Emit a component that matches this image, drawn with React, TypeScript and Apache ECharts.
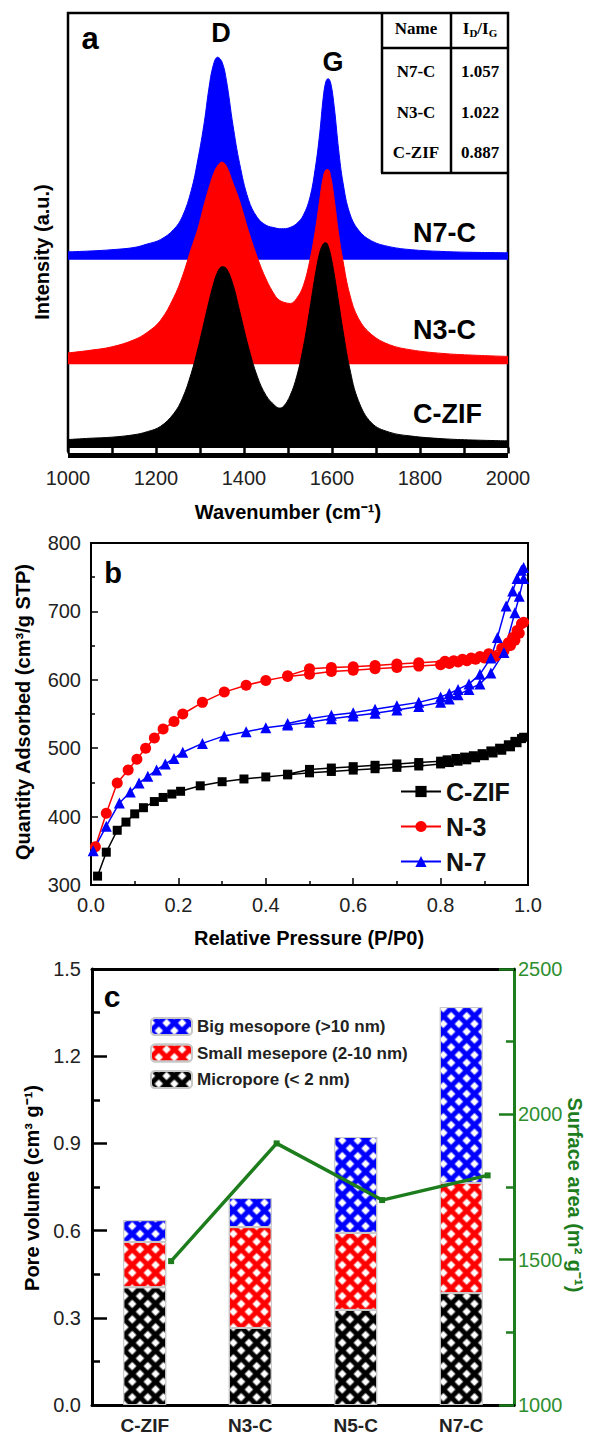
import React, { useEffect, useRef } from 'react';
import * as echarts from 'echarts';

const FONT = "'Liberation Sans', Arial, Helvetica, sans-serif";
const SERIF = "'Liberation Serif', 'Times New Roman', serif";

// ---------- Panel a : Raman spectra ----------
const ramanWavenumber = [1000, 1050, 1100, 1150, 1180, 1210, 1240, 1260, 1280, 1295, 1310, 1320, 1330, 1340, 1350, 1360, 1375, 1390, 1410, 1430, 1450, 1470, 1480, 1490, 1505, 1520, 1535, 1550, 1562, 1572, 1580, 1586, 1591, 1597, 1605, 1615, 1625, 1640, 1660, 1690, 1730, 1780, 1850, 1920, 2000];
const ramanN7C = [45.4, 45.6, 45.9, 46.4, 47.2, 48.2, 50.5, 53.5, 59.4, 66.4, 75.2, 82.6, 88.0, 89.9, 88.8, 84.6, 74.3, 65.6, 57.4, 53.3, 51.5, 50.9, 50.7, 50.7, 51.0, 51.9, 53.8, 57.9, 64.5, 72.4, 80.6, 84.3, 85.0, 84.0, 78.6, 68.8, 61.2, 54.3, 50.4, 47.9, 46.6, 45.9, 45.5, 45.3, 45.2];
const ramanN3C = [22.3, 22.9, 23.7, 25.3, 27.0, 29.7, 34.9, 39.8, 46.1, 50.6, 56.4, 59.9, 63.0, 65.1, 65.9, 65.0, 61.1, 57.0, 50.2, 44.2, 39.2, 35.5, 34.4, 33.9, 33.6, 34.8, 37.7, 43.6, 50.2, 57.2, 62.4, 64.1, 64.2, 62.6, 57.4, 49.5, 43.3, 35.8, 30.2, 26.5, 24.2, 23.0, 22.2, 21.8, 21.5];
const ramanCZIF = [2.5, 2.8, 3.05, 3.6, 4.3, 5.5, 8.4, 11.9, 17.6, 23.2, 29.6, 33.9, 37.8, 40.8, 42.0, 41.6, 37.9, 31.9, 23.7, 17.0, 12.6, 10.3, 9.7, 10.1, 12.6, 17.0, 23.7, 32.6, 40.1, 45.2, 47.2, 47.5, 46.8, 44.6, 40.3, 33.9, 27.4, 18.9, 11.4, 6.3, 4.2, 3.3, 2.7, 2.4, 2.2];
const ramanBaseN7C = 43.6;
const ramanBaseN3C = 19.7;
const ramanTableNames = ['N7-C', 'N3-C', 'C-ZIF'];
const ramanTableRatios = ['1.057', '1.022', '0.887'];

// ---------- Panel b : N2 isotherms ----------
const czifP = [0.015, 0.035, 0.06, 0.08, 0.10, 0.12, 0.145, 0.165, 0.185, 0.205, 0.25, 0.30, 0.35, 0.40, 0.45, 0.50, 0.55, 0.60, 0.65, 0.70, 0.75, 0.80, 0.82, 0.84, 0.86, 0.88, 0.90, 0.92, 0.94, 0.96, 0.975, 0.99, 0.985, 0.97, 0.955, 0.935, 0.915, 0.895, 0.875, 0.855, 0.835, 0.815, 0.80, 0.75, 0.70, 0.65, 0.60, 0.55, 0.50, 0.45];
const czifQ = [313, 348, 380, 392, 404, 413, 422, 428, 433, 437, 445, 451, 455, 458, 461, 464, 466, 468, 470, 472, 474, 477, 479, 481, 483, 486, 489, 493, 497, 502, 508, 516, 514, 510, 505, 500, 496, 492, 489, 487, 485, 483, 481, 479, 477, 475, 473, 471, 469, 462];
const n3P = [0.01, 0.035, 0.06, 0.085, 0.105, 0.125, 0.145, 0.165, 0.19, 0.21, 0.255, 0.305, 0.355, 0.40, 0.45, 0.50, 0.55, 0.60, 0.65, 0.70, 0.75, 0.80, 0.82, 0.84, 0.86, 0.88, 0.90, 0.925, 0.945, 0.96, 0.97, 0.98, 0.99, 0.985, 0.975, 0.965, 0.955, 0.94, 0.91, 0.89, 0.87, 0.85, 0.83, 0.81, 0.75, 0.70, 0.65, 0.60, 0.55, 0.50, 0.45];
const n3Q = [356, 405, 449, 468, 484, 500, 515, 528, 539, 550, 567, 582, 592, 599, 605, 608, 612, 614, 616, 618, 620, 622, 624, 626, 628, 630, 632, 634, 642, 650, 658, 668, 684, 682, 672, 662, 654, 646, 638, 634, 632, 630, 628, 627, 625, 623, 621, 619, 618, 616, 606];
const n7P = [0.005, 0.035, 0.065, 0.09, 0.11, 0.13, 0.15, 0.17, 0.19, 0.21, 0.255, 0.305, 0.355, 0.40, 0.45, 0.50, 0.55, 0.60, 0.65, 0.70, 0.75, 0.80, 0.82, 0.84, 0.865, 0.89, 0.915, 0.945, 0.97, 0.98, 0.99, 0.99, 0.985, 0.975, 0.965, 0.95, 0.93, 0.915, 0.89, 0.865, 0.84, 0.82, 0.80, 0.75, 0.70, 0.65, 0.60, 0.55, 0.50, 0.45];
const n7Q = [350, 386, 420, 436, 449, 459, 468, 477, 485, 494, 507, 518, 524, 530, 534, 538, 543, 547, 551, 556, 561, 567, 572, 578, 586, 594, 610, 640, 698, 722, 748, 764, 760, 748, 730, 708, 662, 632, 608, 594, 586, 580, 575, 567, 562, 557, 552, 548, 543, 536];
const isoNames = ['C-ZIF', 'N-3', 'N-7'];

// ---------- Panel c : pore volume & surface area ----------
const poreCategories = ['C-ZIF', 'N3-C', 'N5-C', 'N7-C'];
const microporeVolume = [0.405, 0.265, 0.327, 0.385];
const smallMesoVolume = [0.156, 0.347, 0.265, 0.379];
const bigMesoVolume = [0.075, 0.10, 0.33, 0.605];
const surfaceArea = [1495, 1900, 1705, 1790];
const poreNames = ['Big mesopore (>10 nm)', 'Small mesepore (2-10 nm)', 'Micropore (< 2 nm)'];

const GREEN = '#1d7d1d';
const GREEN_TXT = '#2f8f2f';

function zip(xs: number[], ys: number[]) {
  return xs.map((x, i) => [x, ys[i]]);
}

function buildOption(): any {
  const hatch = {
    symbol: 'rect',
    symbolSize: 0.85,
    color: '#ffffff',
    dashArrayX: [7, 4],
    dashArrayY: [7, 4],
    rotation: Math.PI / 4,
  };
  const lineShift = 0.25;
  const plain = (v: number) => String(v);

  const txt = (text: string, x: number, y: number, size: number, extra: any = {}) => ({
    type: 'text',
    x,
    y,
    rotation: extra.rotation || 0,
    style: {
      text,
      fill: extra.fill || '#000',
      font: `${extra.weight || 'bold'} ${size}px ${extra.family || FONT}`,
      textAlign: extra.align || 'center',
      align: extra.align || 'center',
      textVerticalAlign: 'middle',
      verticalAlign: 'middle',
    },
    z: 100,
  });
  const ln = (x1: number, y1: number, x2: number, y2: number, w = 2.5) => ({
    type: 'line',
    shape: { x1, y1, x2, y2 },
    style: { stroke: '#000', lineWidth: w },
    z: 100,
  });

  const tableRowsY = [71, 112, 152];
  const tableEls: any[] = [
    ln(382, 13, 382, 173),
    ln(451, 13, 451, 173),
    ln(381, 173, 508, 173),
    ln(382, 48, 508, 48),
    txt('Name', 416, 28, 17, { family: SERIF }),
    {
      type: 'text',
      x: 480,
      y: 28,
      style: {
        text: '{m|I}{s|D}{m|/I}{s|G}',
        fill: '#000',
        align: 'center',
        verticalAlign: 'middle',
        textAlign: 'center',
        textVerticalAlign: 'middle',
        rich: {
          m: { font: `bold 17px ${SERIF}`, fill: '#000', lineHeight: 20 },
          s: { font: `bold 11px ${SERIF}`, fill: '#000', verticalAlign: 'bottom', lineHeight: 20 },
        },
      },
      z: 100,
    },
  ];
  ramanTableNames.forEach((n, i) => {
    tableEls.push(txt(n, 416, tableRowsY[i], 17, { family: SERIF }));
    tableEls.push(txt(ramanTableRatios[i], 480, tableRowsY[i], 17, { family: SERIF }));
  });

  const axisLbl = { fontFamily: FONT, fontSize: 20, color: '#222' };

  return {
    animation: false,
    backgroundColor: '#ffffff',
    textStyle: { fontFamily: FONT },
    grid: [
      { left: 68, top: 13, width: 440, height: 437.5, show: true, borderColor: '#000', borderWidth: 2.5, backgroundColor: 'transparent' },
      { left: 91, top: 543, width: 437, height: 342, show: true, borderColor: '#000', borderWidth: 2, backgroundColor: 'transparent' },
      { left: 92, top: 969, width: 422, height: 436, show: false },
    ],
    xAxis: [
      {
        gridIndex: 0, type: 'value', position: 'bottom', min: 1000, max: 2000, interval: 200, z: 10,
        axisLine: { show: true, onZero: false, lineStyle: { color: '#000', width: 15, cap: 'butt' } },
        axisTick: { show: false }, splitLine: { show: false },
        axisLabel: { ...axisLbl, margin: 17, formatter: plain },
      },
      {
        gridIndex: 0, type: 'value', position: 'bottom', min: 1000, max: 2000, interval: 100, z: 11,
        axisLine: { show: true, onZero: false, lineStyle: { color: '#ffffff', width: 5, cap: 'butt' } },
        axisTick: { show: false }, axisLabel: { show: false }, splitLine: { show: false },
      },
      {
        gridIndex: 0, type: 'value', position: 'bottom', offset: 3, min: 1000, max: 2000, interval: 100, z: 12,
        axisLine: { show: false, onZero: false },
        axisTick: { show: true, inside: true, length: 6, lineStyle: { color: '#000', width: 2.5 } },
        axisLabel: { show: false }, splitLine: { show: false },
      },
      {
        gridIndex: 1, type: 'value', position: 'bottom', min: 0, max: 1, interval: 0.2,
        axisLine: { show: true, onZero: false, lineStyle: { color: '#000', width: 2 } },
        axisTick: { show: true, inside: true, length: 7, lineStyle: { color: '#000', width: 1.5 } },
        minorTick: { show: true, splitNumber: 2, length: 4, lineStyle: { color: '#000', width: 1.5 } },
        splitLine: { show: false },
        axisLabel: { ...axisLbl, margin: 10, formatter: (v: number) => v.toFixed(1) },
      },
      {
        gridIndex: 2, type: 'category', position: 'bottom', data: poreCategories,
        axisLine: { show: true, onZero: false, lineStyle: { color: '#000', width: 3 } },
        axisTick: { show: false },
        axisLabel: { fontFamily: FONT, fontSize: 19, fontWeight: 'bold', color: '#222', margin: 11 },
      },
      {
        gridIndex: 2, type: 'value', position: 'top', min: -0.5 - lineShift, max: 3.5 - lineShift,
        axisLine: { show: true, onZero: false, lineStyle: { color: '#000', width: 3 } },
        axisTick: { show: false }, axisLabel: { show: false }, splitLine: { show: false },
      },
    ],
    yAxis: [
      { gridIndex: 0, type: 'value', min: 0, max: 100, show: false, axisLine: { onZero: false }, splitLine: { show: false } },
      {
        gridIndex: 1, type: 'value', min: 300, max: 800, interval: 100,
        axisLine: { show: true, onZero: false, lineStyle: { color: '#000', width: 2 } },
        axisTick: { show: true, inside: true, length: 7, lineStyle: { color: '#000', width: 1.5 } },
        minorTick: { show: true, splitNumber: 2, length: 4, lineStyle: { color: '#000', width: 1.5 } },
        splitLine: { show: false },
        axisLabel: { ...axisLbl, margin: 10, formatter: plain },
      },
      {
        gridIndex: 2, type: 'value', position: 'left', min: 0, max: 1.5, interval: 0.3,
        axisLine: { show: true, onZero: false, lineStyle: { color: '#000', width: 3 } },
        axisTick: { show: true, inside: true, length: 15, lineStyle: { color: '#000', width: 2.5 } },
        minorTick: { show: true, splitNumber: 2, length: 8, lineStyle: { color: '#000', width: 2.5 } },
        splitLine: { show: false },
        axisLabel: { ...axisLbl, margin: 11, formatter: (v: number) => v.toFixed(1) },
      },
      {
        gridIndex: 2, type: 'value', position: 'right', min: 1000, max: 2500, interval: 500,
        axisLine: { show: true, onZero: false, lineStyle: { color: GREEN, width: 3 } },
        axisTick: { show: true, inside: true, length: 15, lineStyle: { color: GREEN, width: 2.5 } },
        minorTick: { show: true, splitNumber: 2, length: 8, lineStyle: { color: GREEN, width: 2.5 } },
        splitLine: { show: false },
        axisLabel: { fontFamily: FONT, fontSize: 20, color: GREEN_TXT, margin: 4, formatter: plain },
      },
    ],
    legend: [
      {
        data: isoNames, orient: 'vertical', left: 400, top: 779, itemWidth: 40, itemHeight: 14, itemGap: 10,
        padding: 0, textStyle: { fontFamily: FONT, fontSize: 25, fontWeight: 'bold', color: '#111' },
      },
      {
        data: poreNames, orient: 'vertical', left: 150, top: 1017, itemWidth: 41, itemHeight: 17, itemGap: 7.5,
        padding: 0, textStyle: { fontFamily: FONT, fontSize: 17, fontWeight: 'bold', color: '#222' },
      },
    ],
    series: [
      {
        name: 'N7-C spectrum', type: 'line', xAxisIndex: 0, yAxisIndex: 0, data: zip(ramanWavenumber, ramanN7C),
        showSymbol: false, smooth: 0.4, lineStyle: { color: '#0000ff', width: 1 },
        areaStyle: { color: '#0000ff', opacity: 1, origin: ramanBaseN7C },
      },
      {
        name: 'N3-C spectrum', type: 'line', xAxisIndex: 0, yAxisIndex: 0, data: zip(ramanWavenumber, ramanN3C),
        showSymbol: false, smooth: 0.4, lineStyle: { color: '#ff0000', width: 1 },
        areaStyle: { color: '#ff0000', opacity: 1, origin: ramanBaseN3C },
      },
      {
        name: 'C-ZIF spectrum', type: 'line', xAxisIndex: 0, yAxisIndex: 0, data: zip(ramanWavenumber, ramanCZIF),
        showSymbol: false, smooth: 0.4, lineStyle: { color: '#000000', width: 1 },
        areaStyle: { color: '#000000', opacity: 1, origin: 'start' },
      },
      {
        name: isoNames[0], type: 'line', xAxisIndex: 3, yAxisIndex: 1, data: zip(czifP, czifQ),
        symbol: 'rect', symbolSize: 9, lineStyle: { color: '#000', width: 1.5 }, itemStyle: { color: '#000' },
      },
      {
        name: isoNames[1], type: 'line', xAxisIndex: 3, yAxisIndex: 1, data: zip(n3P, n3Q),
        symbol: 'circle', symbolSize: 11, lineStyle: { color: '#ff0000', width: 1.5 }, itemStyle: { color: '#ff0000' },
      },
      {
        name: isoNames[2], type: 'line', xAxisIndex: 3, yAxisIndex: 1, data: zip(n7P, n7Q),
        symbol: 'triangle', symbolSize: 11, lineStyle: { color: '#0000ff', width: 1.5 }, itemStyle: { color: '#0000ff' },
      },
      {
        name: poreNames[2], type: 'bar', xAxisIndex: 4, yAxisIndex: 2, stack: 'pore', data: microporeVolume, barWidth: 43,
        itemStyle: { color: '#000000', borderColor: '#c8c8c8', borderWidth: 1, decal: hatch },
      },
      {
        name: poreNames[1], type: 'bar', xAxisIndex: 4, yAxisIndex: 2, stack: 'pore', data: smallMesoVolume, barWidth: 43,
        itemStyle: { color: '#ff0000', borderColor: '#c8c8c8', borderWidth: 1, decal: hatch },
      },
      {
        name: poreNames[0], type: 'bar', xAxisIndex: 4, yAxisIndex: 2, stack: 'pore', data: bigMesoVolume, barWidth: 43,
        itemStyle: { color: '#0000ff', borderColor: '#c8c8c8', borderWidth: 1, decal: hatch },
      },
      {
        name: 'Surface area', type: 'line', xAxisIndex: 5, yAxisIndex: 3,
        data: surfaceArea.map((v, i) => [i, v]),
        symbol: 'rect', symbolSize: 6, lineStyle: { color: GREEN, width: 3.5 }, itemStyle: { color: GREEN }, z: 5,
      },
    ],
    graphic: {
      elements: [
        txt('a', 90, 38, 31),
        txt('D', 221, 33, 27),
        txt('G', 333, 62, 27),
        txt('N7-C', 413, 233, 27, { align: 'left' }),
        txt('N3-C', 413, 330, 27, { align: 'left' }),
        txt('C-ZIF', 413, 414, 27, { align: 'left' }),
        ...tableEls,
        txt('Intensity (a.u.)', 42, 252, 20, { rotation: Math.PI / 2 }),
        txt('Wavenumber (cm\u207B\u00B9)', 288, 512, 20),
        txt('b', 113, 573, 29),
        txt('Quantity Adsorbed (cm\u00B3/g STP)', 23, 712, 20, { rotation: Math.PI / 2 }),
        txt('Relative Pressure (P/P0)', 309, 938, 20),
        txt('c', 112, 996, 30),
        txt('Pore volume (cm\u00B3 g\u207B\u00B9)', 32, 1188, 20, { rotation: Math.PI / 2 }),
        txt('Surface area (m\u00B2 g\u207B\u00B9)', 575, 1195, 20, { rotation: -Math.PI / 2, fill: GREEN }),
      ],
    },
  };
}

export default function App() {
  const ref = useRef<HTMLDivElement>(null);
  useEffect(() => {
    if (!ref.current) return;
    const chart = echarts.init(ref.current, null, { renderer: 'svg' });
    chart.setOption(buildOption());
    return () => chart.dispose();
  }, []);
  return (
    <div
      ref={ref}
      style={{ position: 'absolute', left: 0, top: 0, width: 593, height: 1436, background: '#fff' }}
    />
  );
}
